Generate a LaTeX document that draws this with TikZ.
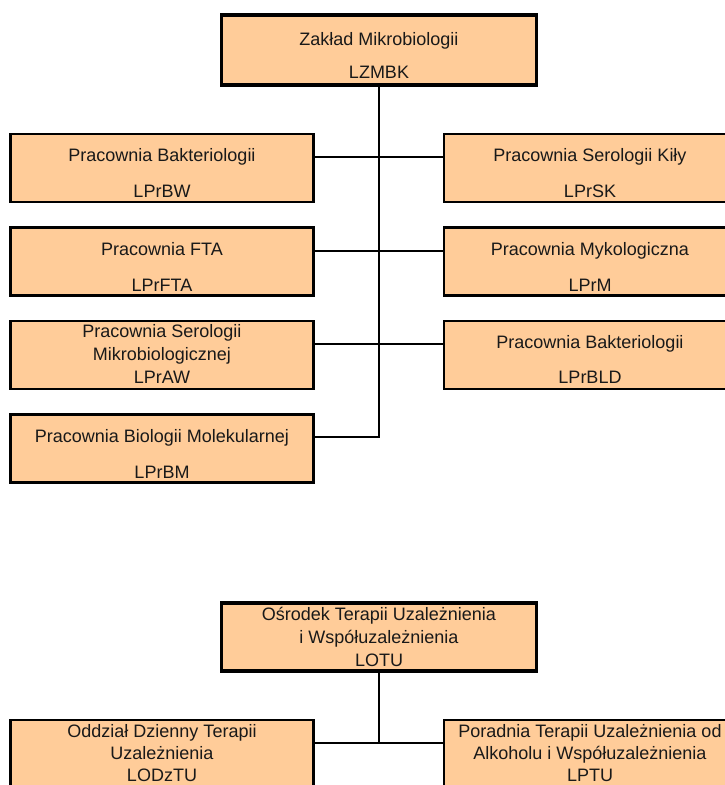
\documentclass[tikz,border=0pt]{standalone}
\usepackage{fontspec}
\setmainfont{Liberation Sans}
\usepackage{xcolor}
\usepackage{tikz}
\definecolor{peach}{HTML}{FFCC99}

\begin{document}
\begin{tikzpicture}[x=1pt,y=1pt,yscale=-1,
  unit/.style={draw, fill=peach, line width=2.2pt, minimum width=303pt, minimum height=68pt, inner sep=0pt},
  runit/.style={unit, minimum width=292pt},
  headbox/.style={unit, line width=3.6pt, minimum width=315pt, minimum height=70pt},
  lbl/.style={anchor=base, inner sep=0pt, text=black!90, font=\fontsize{18}{21}\selectfont},
  link/.style={line width=2pt}]
\useasboundingbox (0,0) rectangle (725,785);
\clip (0,0) rectangle (725,785);

%Flowchart: Process
\node[headbox] (zmbk) at (379,50) {};
\node[unit] (prbw) at (162,168) {};
\node[unit] (prfta) at (162,261.5) {};
\node[unit] (praw) at (162,355) {};
\node[unit] (prbm) at (162,448.5) {};
\node[runit] (prsk) at (590,168) {};
\node[runit] (prm) at (590,261.5) {};
\node[runit] (prbld) at (590,355) {};
%Flowchart: Process
\node[headbox, minimum height=68pt] (lotu) at (379,637) {};
\node[unit] (lodztu) at (162,754) {};
\node[runit] (lptu) at (590,754) {};

%Connectors
\coordinate (r1) at (379,157);
\coordinate (r2) at (379,250.5);
\coordinate (r3) at (379,343.5);
\coordinate (r4) at (379,437);
\coordinate (s1) at (379,743);
\draw[link] (zmbk.south) -- (zmbk.south |- r4) -- (prbm.east |- r4);
\draw[link] (prbw.east |- r1) -- (prsk.west |- r1);
\draw[link] (prfta.east |- r2) -- (prm.west |- r2);
\draw[link] (praw.east |- r3) -- (prbld.west |- r3);
\draw[link] (lotu.south) -- (lotu.south |- s1);
\draw[link] (lodztu.east |- s1) -- (lptu.west |- s1);

% Text Node
\node[lbl] (zmbk1) at (379,45) {Zakład Mikrobiologii};
\node[lbl] (zmbk2) at (379,78) {LZMBK};
\node[lbl] (prbw1) at (162,161.5) {Pracownia Bakteriologii};
\node[lbl] (prbw2) at (162,197) {LPrBW};
\node[lbl] (prfta1) at (162,255.5) {Pracownia FTA};
\node[lbl] (prfta2) at (162,291) {LPrFTA};
\node[lbl] (praw1) at (162,337.5) {Pracownia Serologii};
\node[lbl] (praw2) at (162,360) {Mikrobiologicznej};
\node[lbl] (praw3) at (162,383) {LPrAW};
\node[lbl] (prbm1) at (162,442) {Pracownia Biologii Molekularnej};
\node[lbl] (prbm2) at (162,478) {LPrBM};
\node[lbl] (prsk1) at (590,161.5) {Pracownia Serologii Kiły};
\node[lbl] (prsk2) at (590,197) {LPrSK};
\node[lbl] (prm1) at (590,255.5) {Pracownia Mykologiczna};
\node[lbl] (prm2) at (590,291) {LPrM};
\node[lbl] (prbld1) at (590,348.5) {Pracownia Bakteriologii};
\node[lbl] (prbld2) at (590,383) {LPrBLD};
% Text Node
\node[lbl] (lotu1) at (379,620) {Ośrodek Terapii Uzależnienia};
\node[lbl] (lotu2) at (379,643) {i Współuzależnienia};
\node[lbl] (lotu3) at (379,666) {LOTU};
\node[lbl] (lodztu1) at (162,737.5) {Oddział Dzienny Terapii};
\node[lbl] (lodztu2) at (162,759.5) {Uzależnienia};
\node[lbl] (lodztu3) at (162,781.5) {LODzTU};
\node[lbl] (lptu1) at (590,737.5) {Poradnia Terapii Uzależnienia od};
\node[lbl] (lptu2) at (590,759.5) {Alkoholu i Współuzależnienia};
\node[lbl] (lptu3) at (590,781.5) {LPTU};
\end{tikzpicture}
\end{document}
